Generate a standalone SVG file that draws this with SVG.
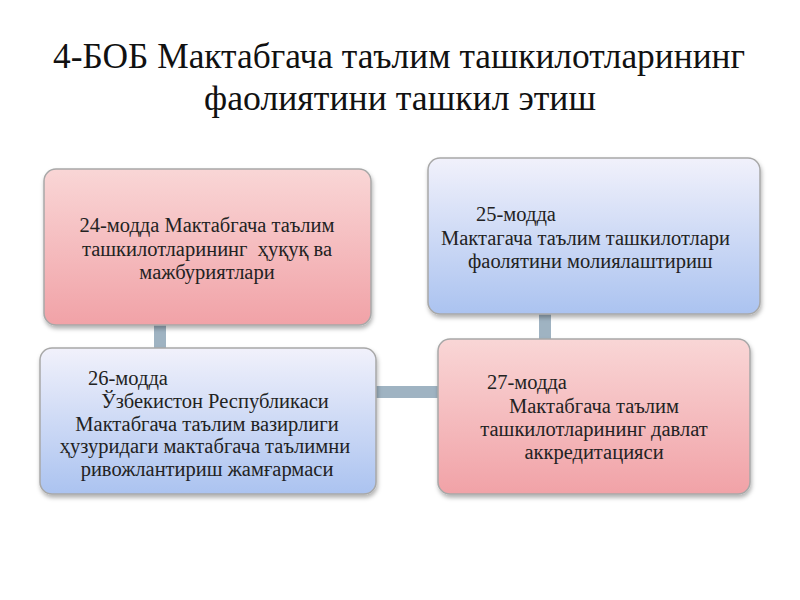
<svg xmlns="http://www.w3.org/2000/svg" width="800" height="600" viewBox="0 0 800 600">
<defs>
<linearGradient id="pink" x1="0" y1="0" x2="0" y2="1">
<stop offset="0" stop-color="#f9d6d6"/>
<stop offset="1" stop-color="#f1a2a7"/>
</linearGradient>
<linearGradient id="blue" x1="0" y1="0" x2="0" y2="1">
<stop offset="0" stop-color="#f1f1fb"/>
<stop offset="1" stop-color="#abc3f0"/>
</linearGradient>
<filter id="sh" x="-10%" y="-10%" width="120%" height="130%">
<feDropShadow dx="1" dy="3" stdDeviation="2" flood-color="#000" flood-opacity="0.3"/>
</filter>
</defs>
<style>
.title{font-family:"Liberation Serif","DejaVu Serif",serif;font-size:35px;fill:#111;text-anchor:middle}
.box{stroke:#a8a8a8;stroke-width:1.5;filter:url(#sh)}
.t{font-family:"Liberation Serif","DejaVu Serif",serif;font-size:20.5px;fill:#222}
.c{text-anchor:middle}
.conn{stroke:#9fb3c2;stroke-width:12;fill:none}
</style>
<rect width="800" height="600" fill="#fff"/>
<text class="title" x="399" y="68" textLength="692" lengthAdjust="spacingAndGlyphs">4-БОБ Мактабгача таълим ташкилотларининг</text>
<text class="title" x="400" y="110" textLength="392" lengthAdjust="spacingAndGlyphs">фаолиятини ташкил этиш</text>
<g id="connectors">
<line class="conn" x1="160" y1="320" x2="160" y2="352"/>
<line class="conn" x1="372" y1="392" x2="442" y2="392"/>
<line class="conn" x1="545" y1="310" x2="545" y2="343"/>
</g>
<g id="n24">
<rect class="box" x="44" y="169" width="327" height="156" rx="12" fill="url(#pink)"/>
<text class="t c" x="207" y="232">24-модда Мактабгача таълим</text>
<text class="t c" x="207" y="256" xml:space="preserve">ташкилотларининг  ҳуқуқ ва</text>
<text class="t c" x="207" y="279">мажбуриятлари</text>
</g>
<g id="n25">
<rect class="box" x="428" y="158" width="332" height="156" rx="12" fill="url(#blue)"/>
<text class="t" x="476" y="221">25-модда</text>
<text class="t" x="441" y="245">Мактагача таълим ташкилотлари</text>
<text class="t" x="468" y="268">фаолятини молиялаштириш</text>
</g>
<g id="n26">
<rect class="box" x="40" y="348" width="336" height="146" rx="12" fill="url(#blue)"/>
<text class="t" x="88" y="385">26-модда</text>
<text class="t c" x="215" y="408">Ўзбекистон Республикаси</text>
<text class="t c" x="207" y="431">Мактабгача таълим вазирлиги</text>
<text class="t c" x="205" y="453">ҳузуридаги мактабгача таълимни</text>
<text class="t c" x="207" y="476">ривожлантириш жамғармаси</text>
</g>
<g id="n27">
<rect class="box" x="438" y="339" width="312" height="155" rx="12" fill="url(#pink)"/>
<text class="t" x="487" y="389">27-модда</text>
<text class="t c" x="594" y="413">Мактабгача таълим</text>
<text class="t c" x="594" y="436">ташкилотларининг давлат</text>
<text class="t c" x="594" y="459">аккредитацияси</text>
</g>
</svg>
